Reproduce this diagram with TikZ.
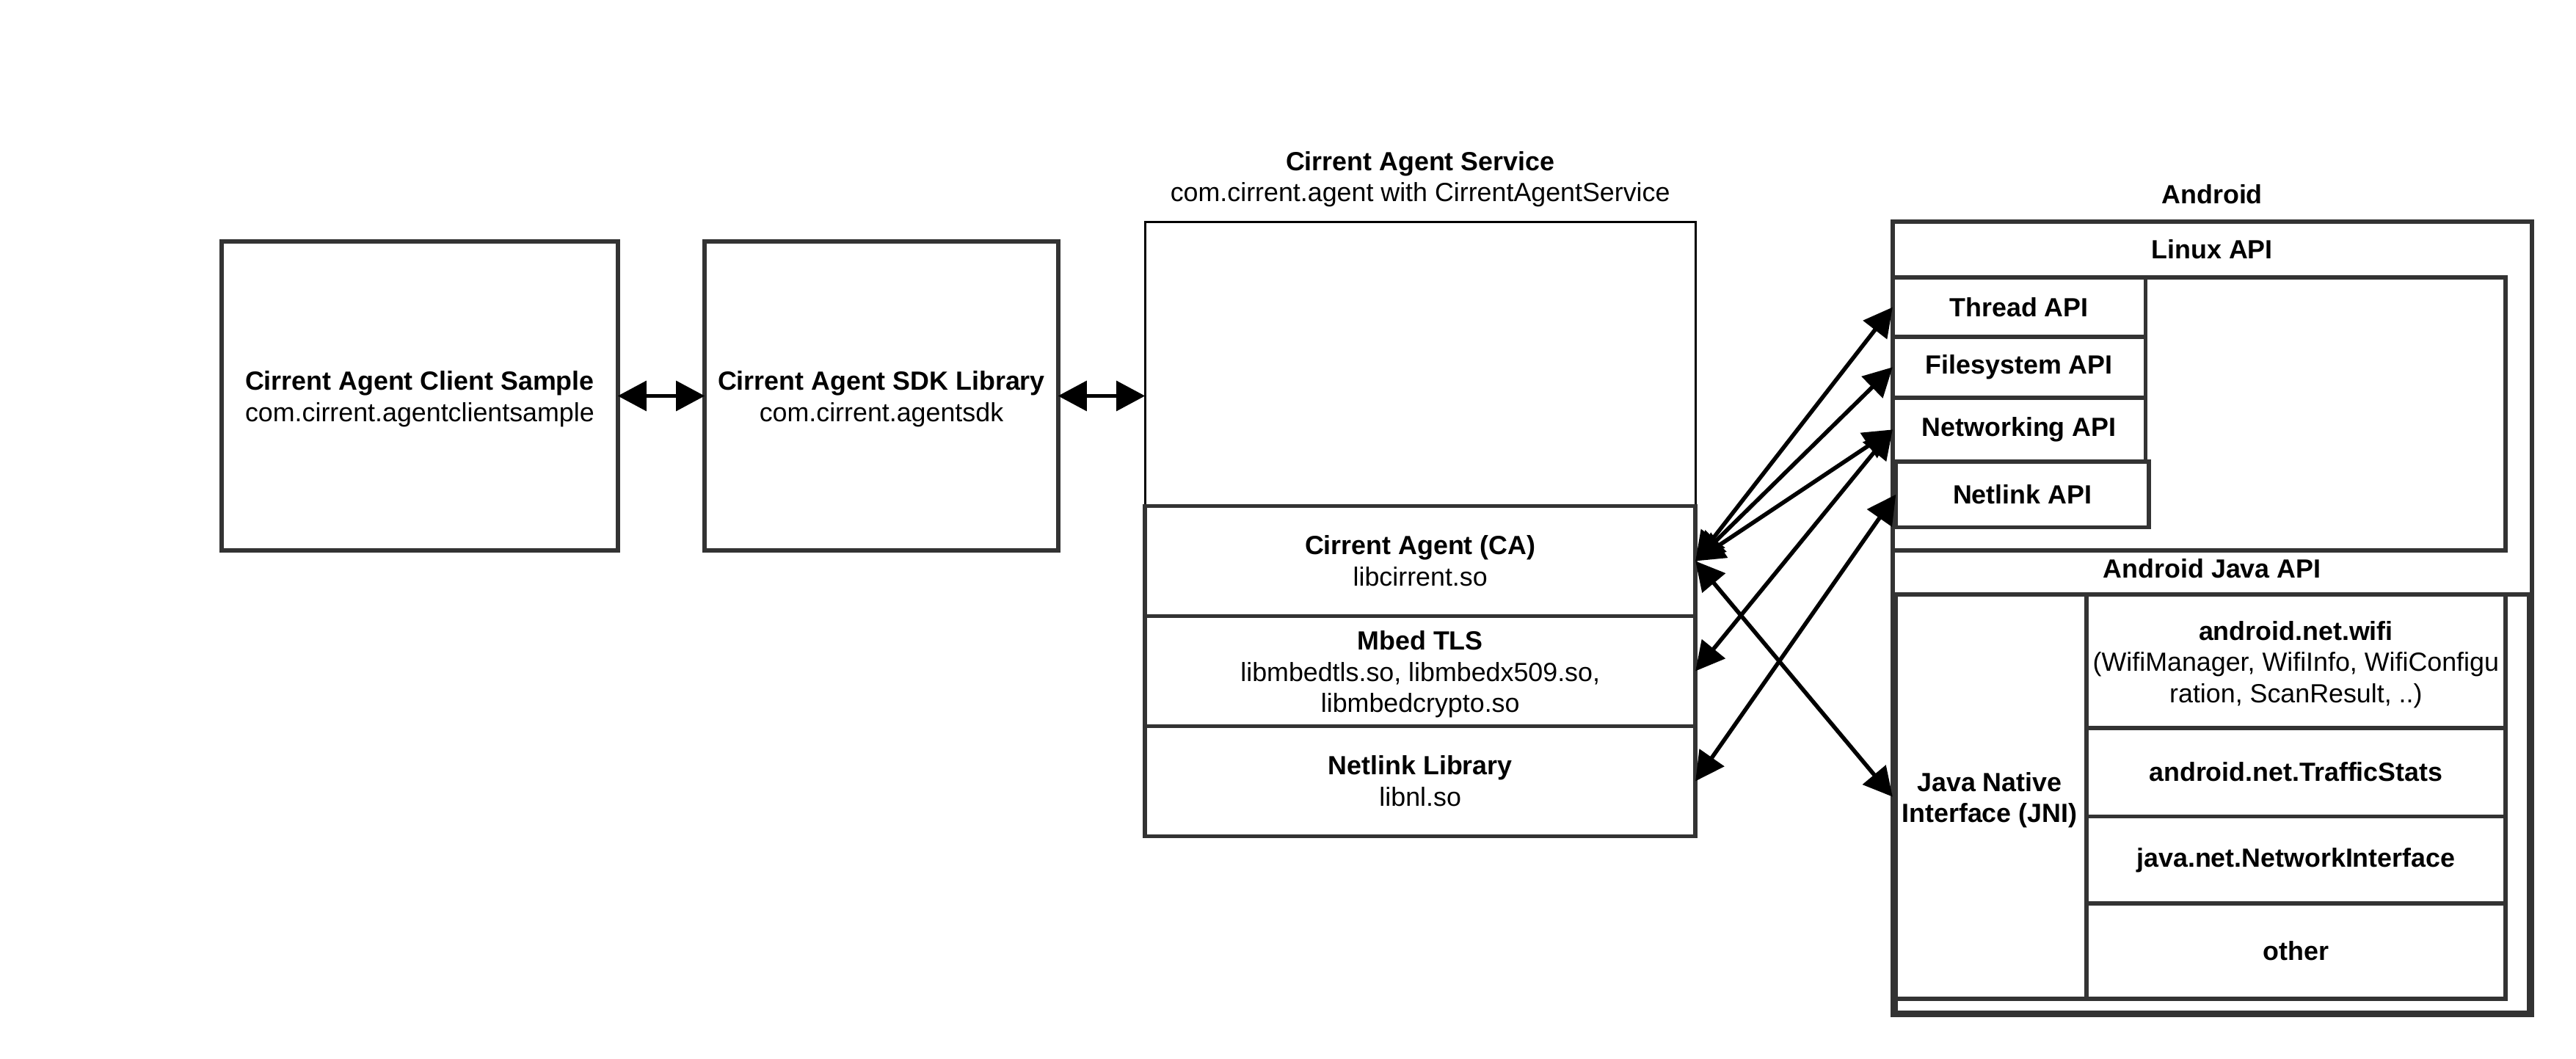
\documentclass[tikz,border=0pt]{standalone}
\usepackage{fontspec}
\setmainfont{Liberation Sans}
\usetikzlibrary{positioning}
\usetikzlibrary{arrows.meta}
\definecolor{boxgray}{HTML}{333333}
\newcommand{\lowstrut}{\rule{0pt}{15.5pt}}
\tikzset{
blk/.style={
  draw=boxgray,line width=2.6pt,align=center,inner sep=0pt,outer sep=0pt},
thinblk/.style={
  draw=black,line width=1.3pt,inner sep=0pt,outer sep=0pt},
lbl/.style={align=center,inner sep=0pt,outer sep=0pt},
biarr/.style={
  line width=2.5pt,>={Triangle[length=17.5pt,width=18pt]},<->}
}
\begin{document}
\begin{tikzpicture}[x=1pt,y=-1pt,font=\fontsize{16}{19}\selectfont]
\useasboundingbox (0,0) rectangle (1568,644.6);

% client and sdk
\node[blk,minimum width=241pt,minimum height=188pt](Client) at (255.5,241)
  {\lowstrut\textbf{Cirrent Agent Client Sample}\\com.cirrent.agentclientsample};
\node[blk,minimum width=215pt,minimum height=188pt](Sdk) at (536.5,241)
  {\lowstrut\textbf{Cirrent Agent SDK Library}\\com.cirrent.agentsdk};

% agent service
\node[thinblk,minimum width=335pt,minimum height=374pt](Svc) at (864.5,322){};
\node[lbl,above=9pt of Svc.north](SvcTitle)
  {\textbf{Cirrent Agent Service}\\com.cirrent.agent with CirrentAgentService};
\node[blk,minimum width=335pt,minimum height=67pt](Ca) at (864.5,341.5)
  {\textbf{Cirrent Agent (CA)}\\libcirrent.so};
\node[blk,minimum width=335pt,minimum height=67pt,below=0pt of Ca](Mbed)
  {\lowstrut\textbf{Mbed TLS}\\libmbedtls.so, libmbedx509.so,\\libmbedcrypto.so};
\node[blk,minimum width=335pt,minimum height=67pt,below=0pt of Mbed](Nlib)
  {\textbf{Netlink Library}\\libnl.so};

% android
\node[blk,minimum width=389pt,minimum height=483pt](Andr) at (1346.5,376.5){};
\node[lbl,above=11pt of Andr.north](AndrTitle){\textbf{Android}};
\node[lbl,below=11pt of Andr.north](LinuxTitle){\textbf{Linux API}};
\node[blk,minimum width=373pt,minimum height=166pt](Linux) at (1338.5,252){};
\node[blk,minimum width=154pt,minimum height=36pt](Thr) at (1229,187){\textbf{Thread API}};
\node[blk,minimum width=154pt,minimum height=37pt,below=0pt of Thr](Fsys){\textbf{Filesystem API}};
\node[blk,minimum width=154pt,minimum height=39pt,below=0pt of Fsys](Netw){\textbf{Networking API}};
\node[blk,minimum width=154pt,minimum height=40pt](Nlapi) at (1231,301){\textbf{Netlink API}};

\node[lbl](JavaTitle) at (1346.5,346){\textbf{Android Java API}};
\node[blk,minimum width=385.5pt,minimum height=254.5pt](Jframe) at (1346.75,489.25){};
\node[blk,minimum width=118pt,minimum height=246pt](Jni) at (1211,485)
  {\lowstrut\textbf{Java Native}\\\textbf{Interface (JNI)}};
\node[blk,minimum width=255pt,minimum height=81pt](Wifi) at (1397.5,402.5)
  {\lowstrut\textbf{android.net.wifi}\\(WifiManager, WifiInfo, WifiConfigu\\ration, ScanResult, ..)};
\node[blk,minimum width=255pt,minimum height=54pt,below=0pt of Wifi](Traf){\textbf{android.net.TrafficStats}};
\node[blk,minimum width=255pt,minimum height=53pt,below=0pt of Traf](Netif){\textbf{java.net.NetworkInterface}};
\node[blk,minimum width=255pt,minimum height=58pt,below=0pt of Netif](Other){\textbf{other}};

% connectors
\draw[biarr](Client.east)--(Sdk.west);
\draw[biarr](Sdk.east)--(Sdk.east-|Svc.west);
\draw[biarr](Ca.east)--(Thr.west);
\draw[biarr](Ca.east)--(Fsys.west);
\draw[biarr](Ca.east)--(Netw.west);
\draw[biarr](Mbed.east)--(Netw.west);
\draw[biarr](Nlib.east)--(Nlapi.west);
\draw[biarr](Ca.east)--(Jni.west);

\end{tikzpicture}
\end{document}
